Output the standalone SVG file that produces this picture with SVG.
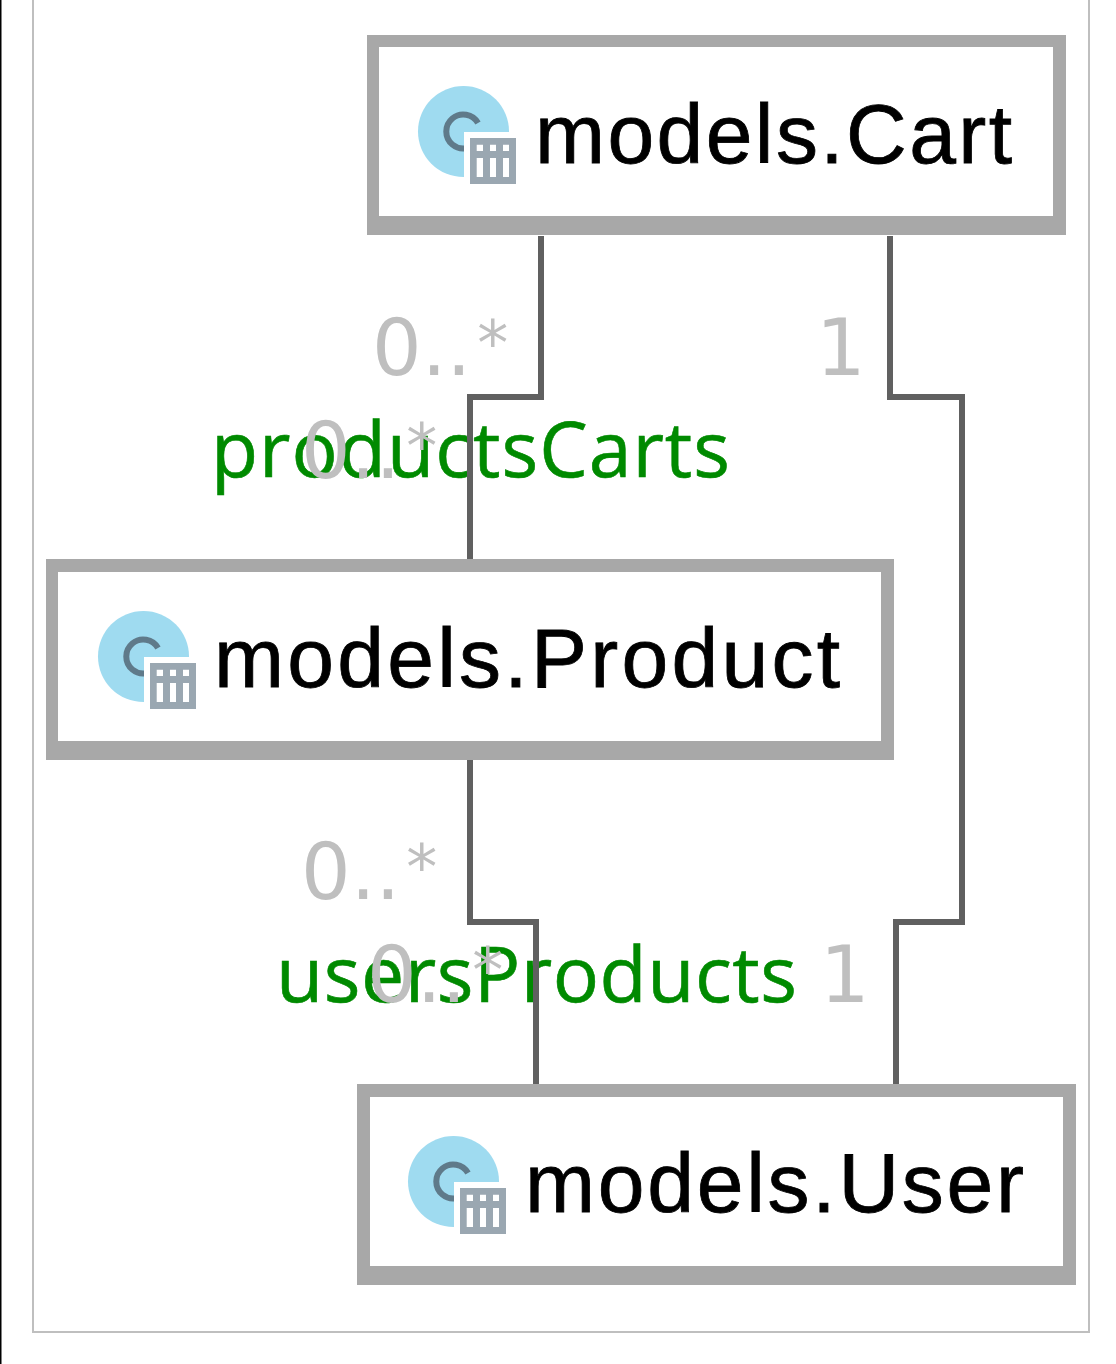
<svg xmlns="http://www.w3.org/2000/svg" xmlns:xlink="http://www.w3.org/1999/xlink" width="1116" height="1364" viewBox="0 0 1116 1364">
<style>
.frame{fill:#a8a8a8}
.inner{fill:#fff}
.name{font-family:"Liberation Sans",Arial,sans-serif;font-size:84px;fill:#000;stroke:#000;stroke-width:0.8;filter:url(#soft)}
.role{font-family:"Open Sans","Noto Sans",sans-serif;font-size:77px;fill:#008a00;stroke:#008a00;stroke-width:0.6}
.mult{font-family:"DejaVu Sans","Noto Sans",sans-serif;font-size:78px;fill:#bfbfbf}
.ast{font-size:62px}
.edge{fill:none;stroke:#606060;stroke-width:6}
</style>
<defs>
<filter id="soft" x="-5%" y="-20%" width="110%" height="140%"><feGaussianBlur stdDeviation="0.7"/></filter>
<g id="icon">
<circle cx="463.5" cy="131.5" r="45.5" fill="#9fdbf0"/>
<path d="M478 123A17 17 0 1 0 478 140" fill="none" stroke="#5f7a8a" stroke-width="6"/>
<rect x="464" y="132" width="52" height="52" fill="#fff"/>
<path fill="#9aa7b1" fill-rule="evenodd" d="M470 138H516V184H470ZM476.700 144.700V151H483V144.700ZM490 144.700V151H496V144.700ZM503 144.700V151H509V144.700ZM476.700 158V177H483V158ZM490 158V177H496V158ZM503 158V177H509V158Z"/>
</g>
</defs>
<rect width="1116" height="1364" fill="#fff"/>
<rect x="0" y="0" width="1.500" height="1364" fill="#000"/>
<path d="M33 0V1332H1089V0" fill="none" stroke="#bfbfbf" stroke-width="2"/>
<text class="role" x="211" y="477" textLength="519" lengthAdjust="spacing">productsCarts</text>
<text class="role" x="276" y="1002" textLength="521" lengthAdjust="spacing">usersProducts</text>
<g id="connectors">
<path class="edge" d="M541 236V397H470V559"/>
<path class="edge" d="M890 236V397H962V922H896V1084"/>
<path class="edge" d="M470 760V922H536V1084"/>
</g>
<g id="multiplicities">
<text class="mult" x="372" y="375">0..<tspan class="ast" dx="6" dy="-10">*</tspan></text>
<text class="mult" x="301" y="478">0..<tspan class="ast" dx="6" dy="-10">*</tspan></text>
<text class="mult" x="816" y="375">1</text>
<text class="mult" x="301" y="899">0..<tspan class="ast" dx="6" dy="-10">*</tspan></text>
<text class="mult" x="367" y="1002">0..<tspan class="ast" dx="6" dy="-10">*</tspan></text>
<text class="mult" x="820" y="1002">1</text>
</g>
<g id="node-cart">
<rect class="frame" x="367" y="35" width="699" height="200"/>
<rect class="inner" x="379" y="47" width="674" height="169"/>
<use xlink:href="#icon" href="#icon"/>
<text class="name" x="535" y="163" textLength="477" lengthAdjust="spacing">models.Cart</text>
</g>
<g id="node-product">
<rect class="frame" x="46" y="559" width="848" height="201"/>
<rect class="inner" x="58" y="572" width="823" height="169"/>
<use xlink:href="#icon" href="#icon" x="-320" y="525"/>
<text class="name" x="214" y="687" textLength="626" lengthAdjust="spacing">models.Product</text>
</g>
<g id="node-user">
<rect class="frame" x="357" y="1084" width="719" height="201"/>
<rect class="inner" x="370" y="1097" width="693" height="169"/>
<use xlink:href="#icon" href="#icon" x="-10" y="1050"/>
<text class="name" x="525" y="1212" textLength="499" lengthAdjust="spacing">models.User</text>
</g>
</svg>
